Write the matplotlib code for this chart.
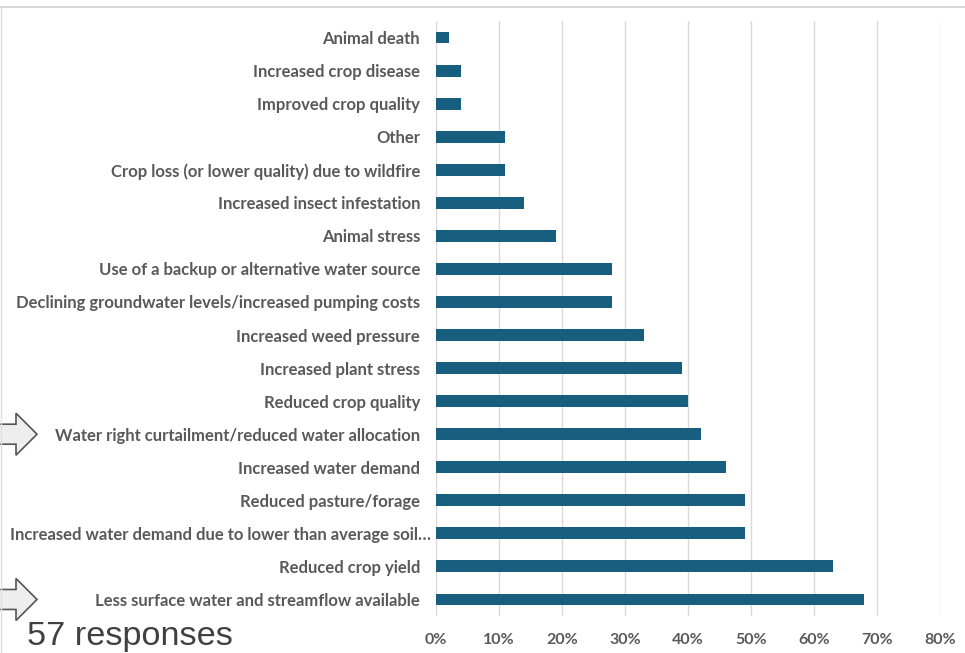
import matplotlib.pyplot as plt
from matplotlib.patches import Polygon
from matplotlib.lines import Line2D
from matplotlib.transforms import ScaledTranslation

# Survey impacts (share of respondents), top to bottom as shown
impacts = [
    "Animal death",
    "Increased crop disease",
    "Improved crop quality",
    "Other",
    "Crop loss (or lower quality) due to wildfire",
    "Increased insect infestation",
    "Animal stress",
    "Use of a backup or alternative water source",
    "Declining groundwater levels/increased pumping costs",
    "Increased weed pressure",
    "Increased plant stress",
    "Reduced crop quality",
    "Water right curtailment/reduced water allocation",
    "Increased water demand",
    "Reduced pasture/forage",
    "Increased water demand due to lower than average soil\u2026",
    "Reduced crop yield",
    "Less surface water and streamflow available",
]
shares = [2, 4, 4, 11, 11, 14, 19, 28, 28, 33, 39, 40, 42, 46, 49, 49, 63, 68]
tick_vals = [0, 10, 20, 30, 40, 50, 60, 70, 80]
tick_labels = [f"{v}%" for v in tick_vals]
arrow_rows = ["Water right curtailment/reduced water allocation",
              "Less surface water and streamflow available"]

BAR = "#175e7f"
TXT = "#595959"

fig = plt.figure(figsize=(9.65, 6.53), dpi=100)
ax = fig.add_axes([436 / 965, 37 / 653, 504 / 965, 595 / 653])

ypos = list(range(len(impacts)))
ax.barh(ypos, shares, height=0.36, color=BAR, zorder=3)
ax.set_ylim(len(impacts) - 0.5, -0.5)
ax.set_xlim(0, 80)

ax.set_yticks(ypos)
ax.set_yticklabels(impacts, fontfamily="Lato", fontweight="bold",
                   fontsize=12, color=TXT)
ax.set_xticks(tick_vals)
ax.set_xticklabels(tick_labels, fontfamily="Lato", fontweight="bold",
                   fontsize=11.5, color=TXT)
ax.tick_params(axis="y", length=0, pad=11.5)
ax.tick_params(axis="x", length=0, pad=12)

# the truncated label lets its ellipsis hang past the others
for lab in ax.get_yticklabels():
    if lab.get_text().endswith("\u2026"):
        lab.set_transform(lab.get_transform() + ScaledTranslation(0.11, 0, fig.dpi_scale_trans))

ax.grid(axis="x", color="#d9d9d9", linewidth=1, zorder=0)
for s in ax.spines.values():
    s.set_visible(False)

# slide frame lines
fig.add_artist(Line2D([0, 1], [1 - 7 / 653, 1 - 7 / 653], transform=fig.transFigure,
                      color="#d0d0d0", linewidth=1.2))
fig.add_artist(Line2D([1 / 965, 1 / 965], [0, 1 - 7 / 653], transform=fig.transFigure,
                      color="#e0e0e0", linewidth=1))

# block arrows pointing at highlighted rows
W, H = 965, 653
for name in arrow_rows:
    yc_data = impacts.index(name)
    yc = ax.transData.transform((0, yc_data))[1]  # pixels from bottom
    pts = [(-5, yc + 10), (16, yc + 10), (16, yc + 21), (37, yc),
           (16, yc - 21), (16, yc - 10), (-5, yc - 10)]
    pts = [(x / W, y / H) for x, y in pts]
    fig.add_artist(Polygon(pts, closed=True, transform=fig.transFigure,
                           facecolor="#eeeeee", edgecolor="#555555", linewidth=1.2))

fig.text(27 / W, 1 - 636 / H, "57 responses", fontfamily="Liberation Sans",
         fontsize=24.7, color="#404040", va="center", ha="left")

fig.savefig("out.png", dpi=100)
